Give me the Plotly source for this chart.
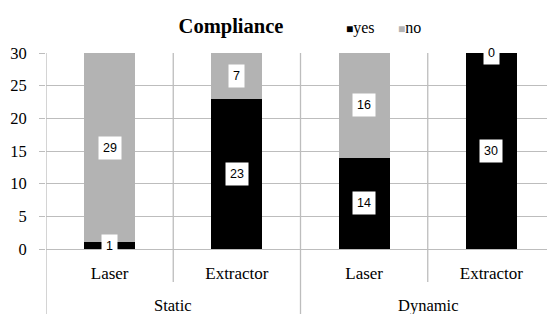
import plotly.graph_objects as go

groups = ["Static", "Static", "Dynamic", "Dynamic"]
categories = ["Laser", "Extractor", "Laser", "Extractor"]
series_names = ["yes", "no"]
series_colors = ["#000000", "#b3b3b3"]
yes_vals = [1, 23, 14, 30]
no_vals = [29, 7, 16, 0]
y_ticks = [0, 5, 10, 15, 20, 25, 30]

x = list(range(len(categories)))
GRID = "#bdbdbd"
SERIF = "Liberation Serif, Times New Roman, serif"
SANS = "Liberation Sans, Arial, sans-serif"

# page body has an 8px default margin, so the figure is drawn 8px smaller
OFF = 8
W, HT = 555 - OFF, 314 - OFF
L, T, B = 46 - OFF, 53 - OFF, 314 - 249
H = HT - T - B
PW = W - L

fig = go.Figure()
for name, col, vals in zip(series_names, series_colors, (yes_vals, no_vals)):
    fig.add_trace(go.Bar(x=x, y=vals, name=name, marker=dict(color=col, line_width=0),
                         width=0.4, showlegend=False))

# data labels in white boxes
for i in x:
    for base, val in ((0, yes_vals[i]), (yes_vals[i], no_vals[i])):
        yc = base + val / 2
        fig.add_annotation(x=i, y=yc, xref="x", yref="y", text=str(val), showarrow=False,
                           bgcolor="white", borderpad=4,
                           font=dict(family=SANS, size=12.5, color="black"))

# category / group separators
inner_bottom = -(282 - 249) / H
outer_bottom = -(320 - 249) / H
for xb, bottom in ((-0.5, outer_bottom), (0.5, inner_bottom), (1.5, outer_bottom), (2.5, inner_bottom)):
    fig.add_shape(type="line", xref="x", yref="paper", x0=xb, x1=xb, y0=1, y1=bottom,
                  line=dict(color=GRID, width=1.3), layer="below")

# group labels
seen = []
for g in groups:
    if g in seen:
        continue
    seen.append(g)
    idx = [j for j, gg in enumerate(groups) if gg == g]
    xc = sum(idx) / len(idx)
    fig.add_annotation(x=xc, y=-(305 - 249) / H, xref="x", yref="paper", text=g, showarrow=False,
                       yanchor="middle", font=dict(family=SERIF, size=16.5, color="black"))

# legend drawn as text
leg_x = [344, 396]
for name, col, lx in zip(series_names, series_colors, leg_x):
    fig.add_annotation(x=(lx - 46) / PW, y=1 + (53 - 28) / H, xref="paper", yref="paper",
                       xanchor="left", yanchor="middle", showarrow=False,
                       text=f'<span style="color:{col};font-size:12px">■</span>{name}',
                       font=dict(family=SERIF, size=16, color="black"))

fig.update_layout(
    width=W, height=HT,
    margin=dict(l=L, r=0, t=T, b=B),
    plot_bgcolor="white", paper_bgcolor="white",
    barmode="stack",
    title=dict(text="<b>Compliance</b>", x=(231 - OFF) / W, xref="container", xanchor="center",
               y=1 - (26 - OFF) / HT, yref="container", yanchor="middle",
               font=dict(family=SERIF, size=20.5, color="black")),
    showlegend=False,
)
fig.update_xaxes(range=[-0.5, 3.5], tickvals=x, ticktext=categories, showgrid=False, zeroline=False,
                 showline=False, ticks="", ticklabelstandoff=12,
                 tickfont=dict(family=SERIF, size=17, color="black"))
fig.update_yaxes(range=[0, 30], tickvals=y_ticks, showgrid=True, gridcolor=GRID, gridwidth=1.3,
                 zeroline=True, zerolinecolor=GRID, zerolinewidth=1.3,
                 showline=False, ticks="outside", ticklen=6, tickcolor=GRID, tickwidth=1.3,
                 ticklabelstandoff=9,
                 tickfont=dict(family=SERIF, size=16.5, color="black"))

fig.write_html("out.html")
